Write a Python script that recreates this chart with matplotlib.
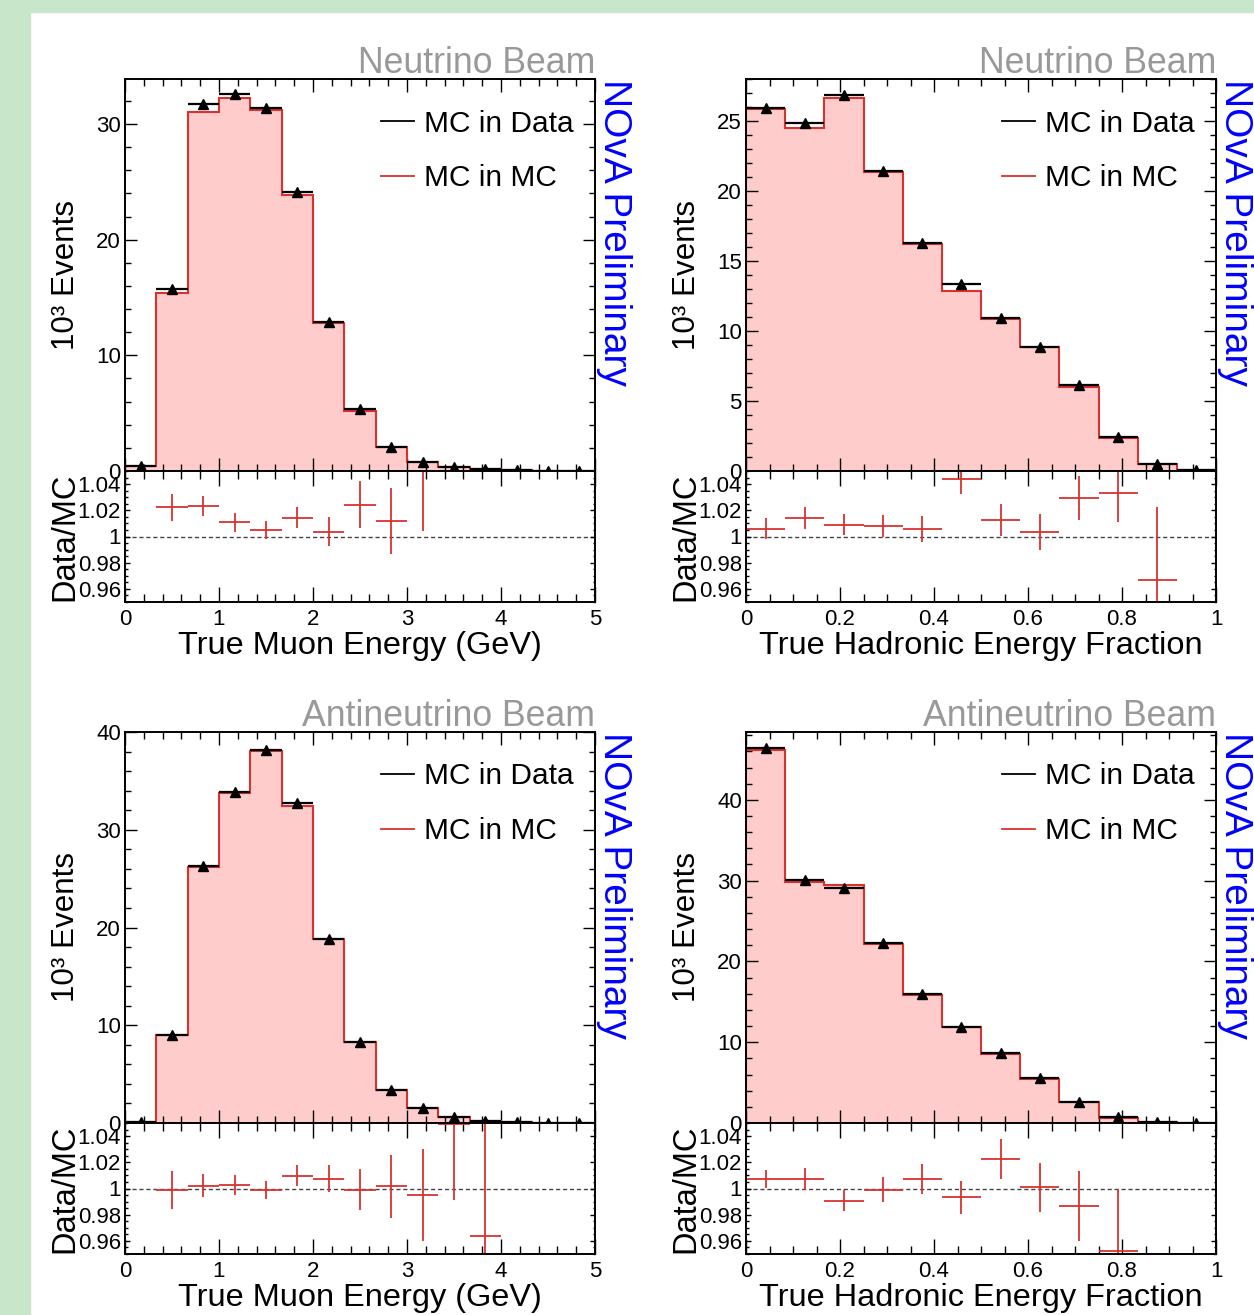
import numpy as np
import matplotlib
matplotlib.use("Agg")
import matplotlib.pyplot as plt
from matplotlib.lines import Line2D
from matplotlib.patches import Rectangle
from matplotlib.ticker import MultipleLocator, FuncFormatter

plt.rcParams["font.family"] = ["Liberation Sans", "DejaVu Sans"]

RED = "#d8312e"
PINK = "#ffcccc"
GREEN = "#c8e6c9"

# --- binning -------------------------------------------------------------
muon_edges = np.linspace(0.0, 5.0, 16)
had_edges = np.linspace(0.0, 1.0, 13)

# --- neutrino beam, true muon energy (10^3 events) -----------------------
nu_muon_data = [0.40, 15.75, 31.76, 32.60, 31.38, 24.17, 12.86, 5.36, 2.10, 0.80, 0.35, 0.15, 0.08, 0.04, 0.02]
nu_muon_mc = [0.45, 15.40, 31.03, 32.30, 31.24, 23.85, 12.83, 5.22, 2.05, 0.76, 0.33, 0.14, 0.07, 0.04, 0.02]
nu_muon_ratio = [np.nan, 1.0222, 1.0232, 1.0107, 1.0051, 1.0143, 1.0038, 1.0242, 1.0120, 1.0650,
                 np.nan, np.nan, np.nan, np.nan, np.nan]
nu_muon_rerr = [0, 0.0105, 0.0074, 0.0074, 0.0070, 0.0080, 0.0110, 0.0180, 0.0250, 0.0610, 0, 0, 0, 0, 0]

# --- neutrino beam, true hadronic energy fraction -------------------------
nu_had_data = [25.95, 24.83, 26.86, 21.45, 16.26, 13.38, 10.90, 8.88, 6.14, 2.45, 0.50, 0.05]
nu_had_mc = [25.83, 24.52, 26.67, 21.33, 16.19, 12.86, 10.83, 8.86, 6.02, 2.38, 0.48, 0.05]
nu_had_ratio = [1.0061, 1.0142, 1.0091, 1.0081, 1.0056, 1.0438, 1.0125, 1.0033, 1.0295, 1.0329, 0.9666, np.nan]
nu_had_rerr = [0.0077, 0.0084, 0.0079, 0.0086, 0.0097, 0.0115, 0.0124, 0.0136, 0.0170, 0.0220, 0.0563, 0]

# --- antineutrino beam, true muon energy ---------------------------------
anu_muon_data = [0.10, 9.00, 26.29, 33.89, 38.12, 32.73, 18.85, 8.28, 3.41, 1.57, 0.61, 0.20, 0.06, 0.03, 0.01]
anu_muon_mc = [0.10, 8.97, 26.22, 33.79, 38.08, 32.46, 18.79, 8.25, 3.41, 1.53, 0.60, 0.21, 0.06, 0.03, 0.01]
anu_muon_ratio = [np.nan, 0.9987, 1.0021, 1.0026, 0.9987, 1.0097, 1.0074, 0.9992, 1.0018, 0.9949, 1.0490, 0.9638,
                  np.nan, np.nan, np.nan]
anu_muon_rerr = [0, 0.0146, 0.0086, 0.0074, 0.0070, 0.0080, 0.0103, 0.0154, 0.0240, 0.0350, 0.0580, 0.1000, 0, 0, 0]

# --- antineutrino beam, true hadronic energy fraction ---------------------
anu_had_data = [46.47, 30.02, 29.11, 22.23, 15.96, 11.88, 8.70, 5.53, 2.60, 0.70, 0.12, 0.03]
anu_had_mc = [46.14, 29.86, 29.40, 22.19, 15.84, 11.84, 8.49, 5.48, 2.56, 0.66, 0.12, 0.03]
anu_had_ratio = [1.0072, 1.0072, 0.9908, 0.9990, 1.0072, 0.9933, 1.0226, 1.0010, 0.9867, 0.9520, np.nan, np.nan]
anu_had_rerr = [0.0068, 0.0083, 0.0083, 0.0094, 0.0115, 0.0128, 0.0154, 0.0188, 0.0270, 0.0480, 0, 0]

W, H = 1254, 1315


def fx(px):
    return px / W


def fy(px):
    return 1 - px / H


fmt_g = FuncFormatter(lambda v, pos: f"{v:g}")


def draw_panel(fig, left_px, top_px, zero_px, bottom_px, edges, data, mc, ratio, rerr,
               ymax, ymajor, yminor, xmajor, xminor, xlabel, beam):
    width = fx(470)
    ax = fig.add_axes([fx(left_px), fy(zero_px), width, (zero_px - top_px) / H])
    axr = fig.add_axes([fx(left_px), fy(bottom_px), width, (bottom_px - zero_px) / H])

    edges = np.asarray(edges)
    centers = 0.5 * (edges[1:] + edges[:-1])
    half = 0.5 * (edges[1] - edges[0])

    # upper panel: MC in MC filled histogram, MC in Data as points
    ax.stairs(mc, edges, fill=True, color=PINK, baseline=0, zorder=1)
    ax.stairs(mc, edges, color=RED, lw=1.5, baseline=0, zorder=2)
    ax.errorbar(centers, data, xerr=half, fmt="^", color="black", ms=7,
                elinewidth=1.6, capsize=0, zorder=3)
    ax.set_xlim(edges[0], edges[-1])
    ax.set_ylim(0, ymax)
    ax.xaxis.set_major_locator(MultipleLocator(xmajor))
    ax.xaxis.set_minor_locator(MultipleLocator(xminor))
    ax.yaxis.set_major_locator(MultipleLocator(ymajor))
    ax.yaxis.set_minor_locator(MultipleLocator(yminor))
    ax.yaxis.set_major_formatter(fmt_g)
    ax.tick_params(which="both", direction="in", top=True, right=True, labelbottom=False,
                   labelsize=16, width=1.0, pad=3)
    ax.tick_params(axis="x", which="major", length=9.5)
    ax.tick_params(axis="x", which="minor", length=5)
    ax.tick_params(axis="y", which="major", length=8.5)
    ax.tick_params(axis="y", which="minor", length=4.5)
    for s in ax.spines.values():
        s.set_linewidth(1.4)
    ax.set_ylabel("10³ Events", fontsize=22.6)
    ax.yaxis.set_label_coords(-0.094, 0.5)

    handles = [Line2D([], [], color="black", lw=1.3), Line2D([], [], color=RED, lw=1.3)]
    ax.legend(handles, ["MC in Data", "MC in MC"], loc="upper right", bbox_to_anchor=(0.955, 0.922),
              frameon=False, fontsize=21.5, handlelength=1.1, handletextpad=0.35,
              labelspacing=0.9, borderaxespad=0, borderpad=0)

    ax.text(1.0, 1.0 + 6 / 392, beam, transform=ax.transAxes, ha="right", va="baseline",
            fontsize=25.7, color="#999999")
    ax.text(1.003, 1.0, "NOvA Preliminary", transform=ax.transAxes, rotation=-90,
            ha="left", va="top", fontsize=28, color="#0000ff")

    # ratio panel
    axr.axhline(1.0, color="#444444", lw=1.0, ls=(0, (3, 2)), zorder=1)
    axr.errorbar(centers, ratio, xerr=half, yerr=rerr, fmt="none", ecolor=RED,
                 elinewidth=1.3, capsize=0, zorder=2)
    axr.set_xlim(edges[0], edges[-1])
    axr.set_ylim(0.95, 1.05)
    axr.xaxis.set_major_locator(MultipleLocator(xmajor))
    axr.xaxis.set_minor_locator(MultipleLocator(xminor))
    axr.xaxis.set_major_formatter(fmt_g)
    axr.set_yticks([0.96, 0.98, 1.0, 1.02, 1.04])
    axr.yaxis.set_minor_locator(MultipleLocator(0.005))
    axr.yaxis.set_major_formatter(fmt_g)
    axr.tick_params(which="both", direction="in", top=True, right=True, labelsize=16, width=1.0, pad=3)
    axr.tick_params(axis="x", which="major", length=11, pad=5)
    axr.tick_params(axis="x", which="minor", length=5.5)
    axr.tick_params(axis="y", which="major", length=3.5)
    axr.tick_params(axis="y", which="minor", length=1.8)
    for s in axr.spines.values():
        s.set_linewidth(1.4)
    axr.set_ylabel("Data/MC", fontsize=23.5)
    axr.yaxis.set_label_coords(-0.094, 0.5)
    axr.set_xlabel(xlabel, fontsize=23.4, labelpad=1)


fig = plt.figure(figsize=(W / 100, H / 100), dpi=100)
fig.patches.append(Rectangle((0, 0), fx(30), 1, transform=fig.transFigure, color=GREEN, zorder=-10))
fig.patches.append(Rectangle((0, fy(12)), 1, 12 / H, transform=fig.transFigure, color=GREEN, zorder=-10))

draw_panel(fig, 125, 79, 471, 602, muon_edges, nu_muon_data, nu_muon_mc, nu_muon_ratio, nu_muon_rerr,
           33.9, 10, 2, 1, 0.2, "True Muon Energy (GeV)", "Neutrino Beam")
draw_panel(fig, 746, 79, 471, 602, had_edges, nu_had_data, nu_had_mc, nu_had_ratio, nu_had_rerr,
           28.0, 5, 1, 0.2, 0.05, "True Hadronic Energy Fraction", "Neutrino Beam")
draw_panel(fig, 125, 732, 1123, 1254, muon_edges, anu_muon_data, anu_muon_mc, anu_muon_ratio, anu_muon_rerr,
           40.0, 10, 2, 1, 0.2, "True Muon Energy (GeV)", "Antineutrino Beam")
draw_panel(fig, 746, 732, 1123, 1254, had_edges, anu_had_data, anu_had_mc, anu_had_ratio, anu_had_rerr,
           48.4, 10, 2, 0.2, 0.05, "True Hadronic Energy Fraction", "Antineutrino Beam")

fig.savefig("out.png", dpi=100)
